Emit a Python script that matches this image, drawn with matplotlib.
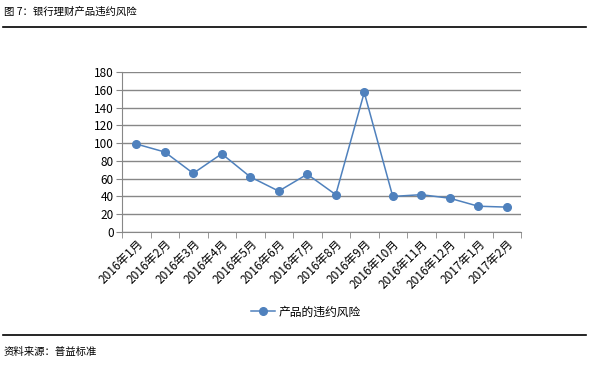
import matplotlib
matplotlib.use("Agg")
import matplotlib.pyplot as plt
from matplotlib.lines import Line2D
import numpy as np

plt.rcParams['font.family'] = ['Noto Sans CJK SC', 'DejaVu Sans']

months = ["2016年1月", "2016年2月", "2016年3月", "2016年4月", "2016年5月",
          "2016年6月", "2016年7月", "2016年8月", "2016年9月", "2016年10月",
          "2016年11月", "2016年12月", "2017年1月", "2017年2月"]
risk = [99, 90, 66, 88, 62, 46, 65, 42, 157, 40, 42, 38, 29, 28]
series_name = "产品的违约风险"
title = "图 7：银行理财产品违约风险"
source = "资料来源：普益标准"

W, H = 597, 372
fig = plt.figure(figsize=(W / 100, H / 100), dpi=100)
ax = fig.add_axes([122 / W, 1 - 232 / H, (521 - 122) / W, (232 - 72) / H])

x = np.arange(len(months))
line, = ax.plot(x, risk, color="#4F81BD", linewidth=1.1, marker="o",
                markersize=5.5, label=series_name)

ax.set_xlim(-0.5, len(months) - 0.5)
ax.set_ylim(0, 180)
ax.set_yticks(np.arange(0, 181, 20))
ax.yaxis.grid(True, color="#878787", linewidth=1)
ax.set_axisbelow(True)

ax.set_xticks(x)
ax.set_xticklabels(months, rotation=45, ha="right", rotation_mode="anchor",
                   fontsize=8.5)
ax.tick_params(axis="x", length=0, pad=4)
ax.set_xticks(np.arange(-0.5, len(months)), minor=True)
ax.tick_params(axis="x", which="minor", length=4, color="#878787")
ax.tick_params(axis="y", labelsize=8.5, length=4, color="#878787", pad=2)

for s in ["top", "right"]:
    ax.spines[s].set_visible(False)
for s in ["left", "bottom"]:
    ax.spines[s].set_color("#878787")

fig.legend(handles=[line], loc="center", bbox_to_anchor=(306 / W, 1 - 312 / H),
           frameon=False, fontsize=8.5, handlelength=2.0, handletextpad=0.3)

fig.add_artist(Line2D([3 / W, 586 / W], [1 - 27.3 / H] * 2, color="black", linewidth=1.2))
fig.add_artist(Line2D([3 / W, 586 / W], [1 - 335.3 / H] * 2, color="black", linewidth=1.2))
fig.text(4 / W, 1 - 12 / H, title, fontsize=7.5, va="center", ha="left")
fig.text(4 / W, 1 - 352 / H, source, fontsize=7.5, va="center", ha="left")

fig.savefig("out.png", dpi=100)
